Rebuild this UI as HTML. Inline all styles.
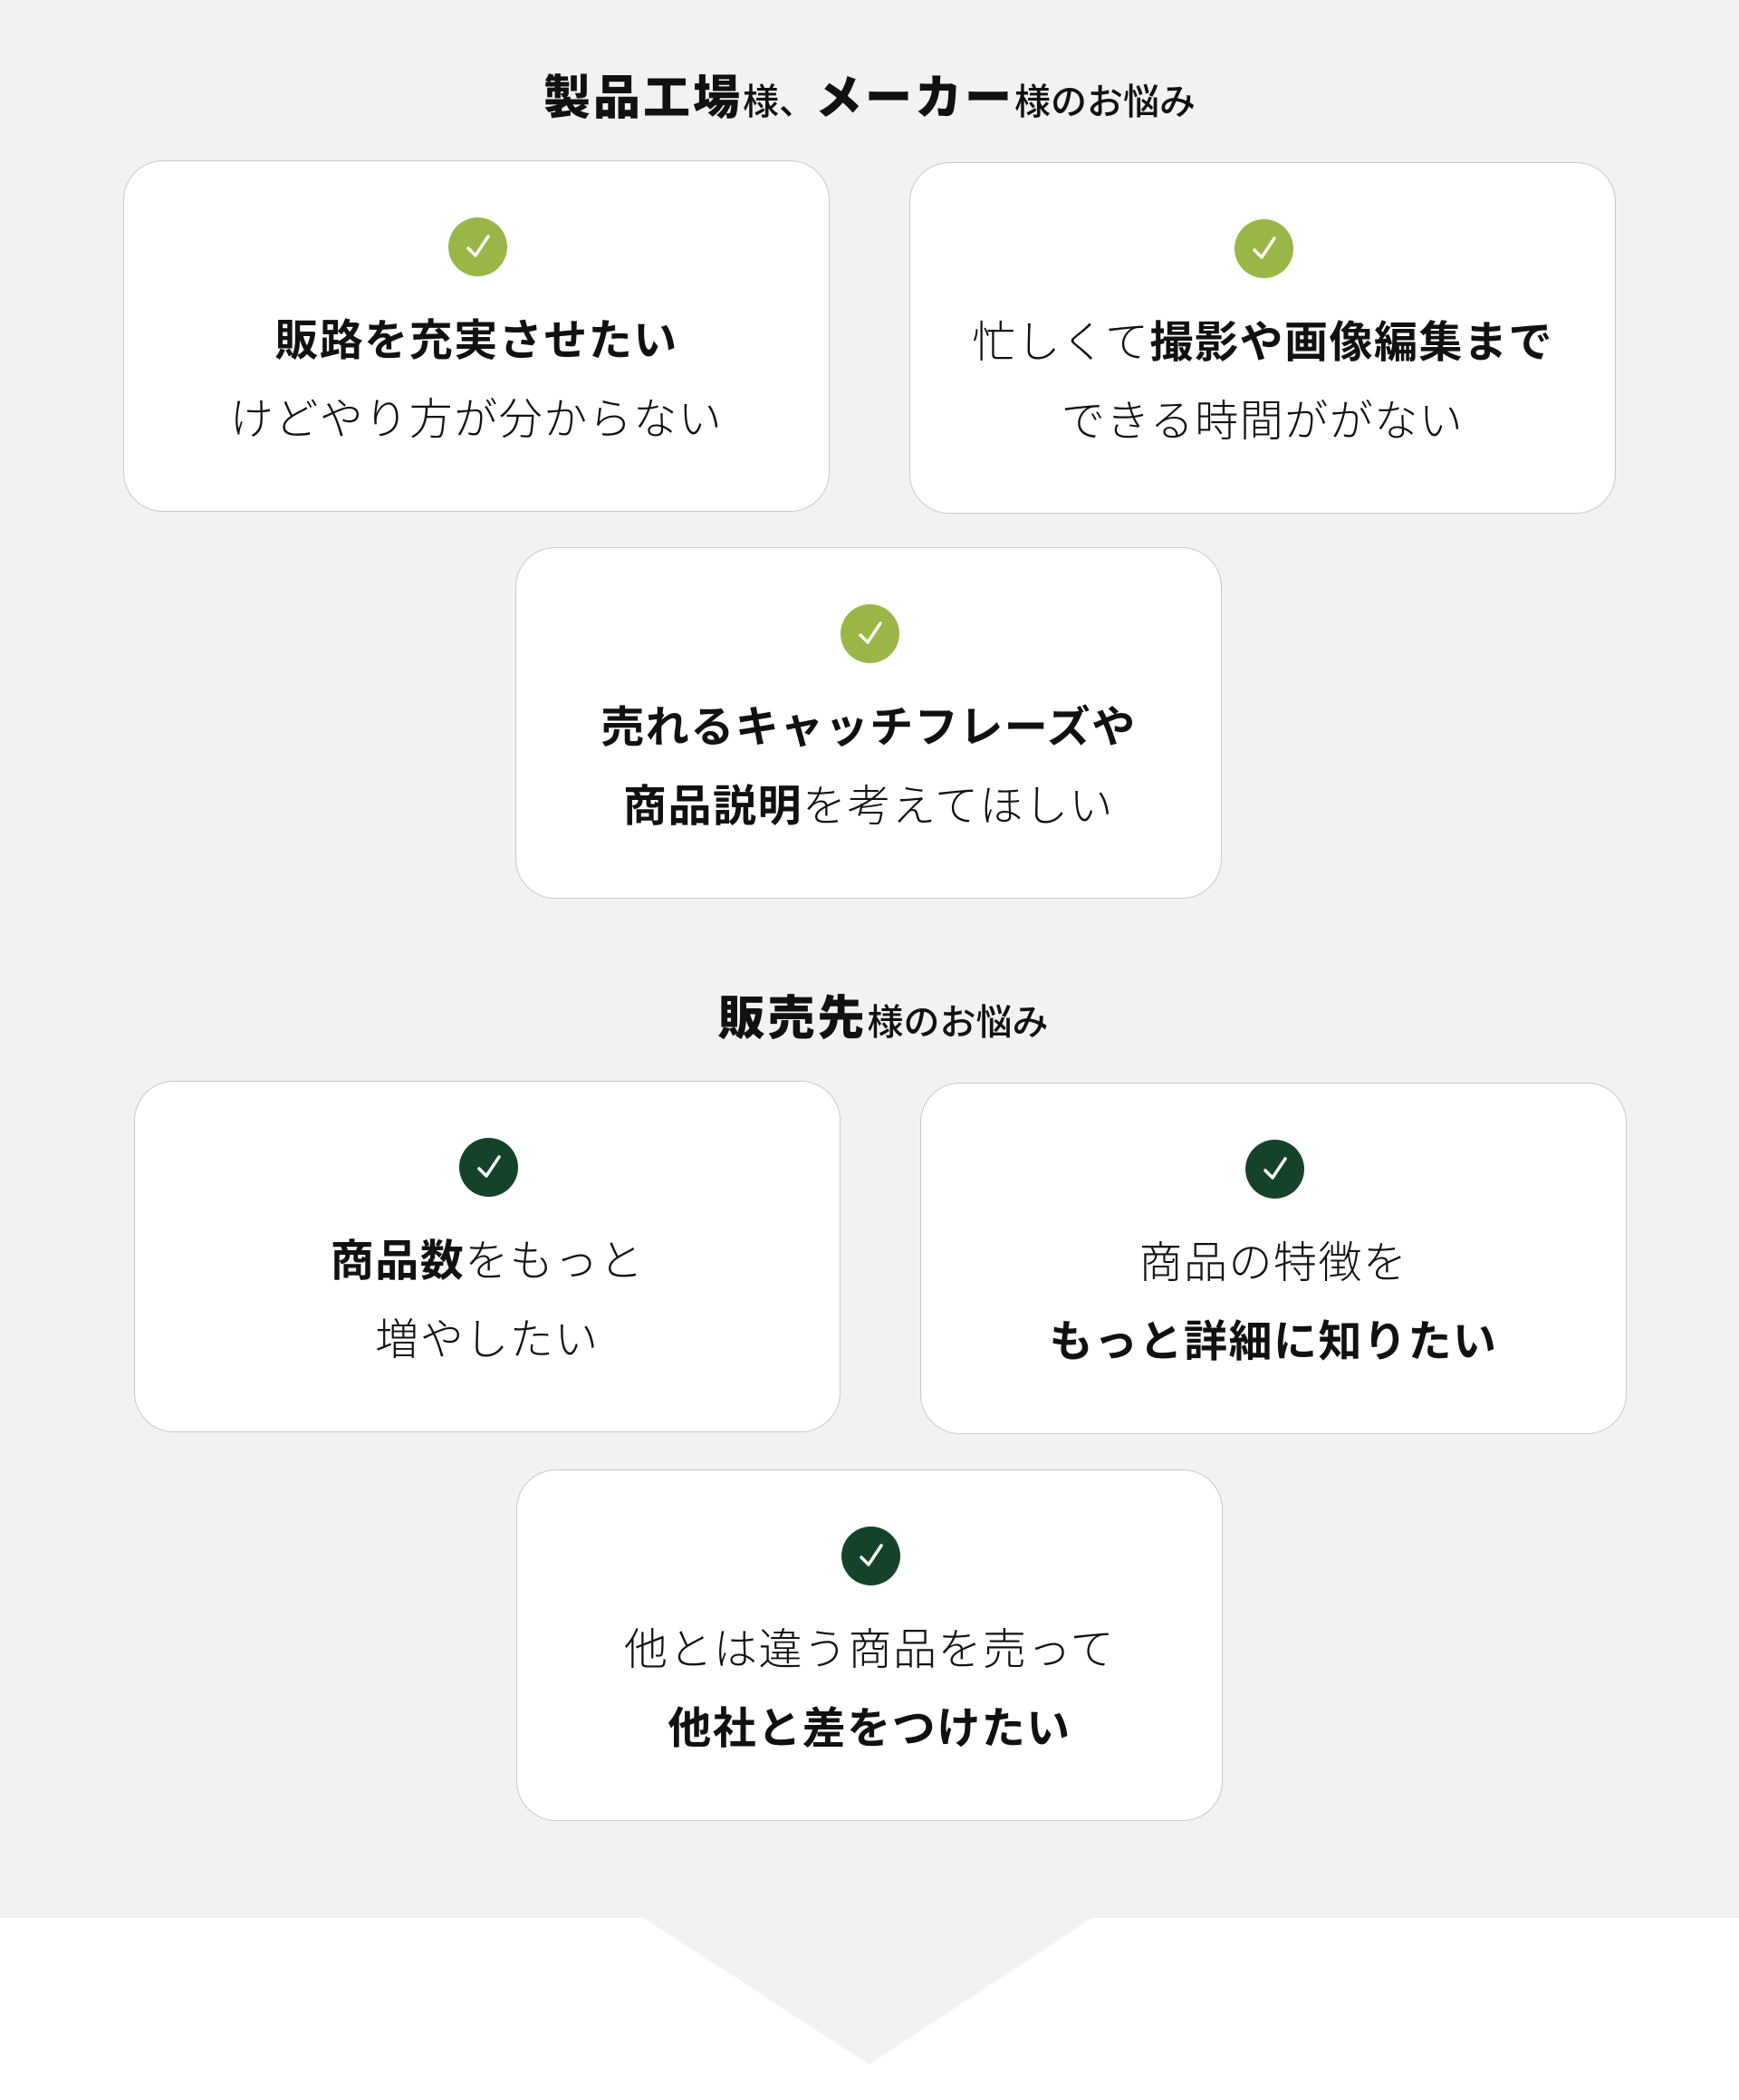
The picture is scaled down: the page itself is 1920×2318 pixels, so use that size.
<!DOCTYPE html>
<html><head><meta charset="utf-8"><style>
html,body{margin:0;padding:0}
body{width:1920px;height:2318px;position:relative;background:#fff;font-family:"Liberation Sans","Noto Sans CJK JP",sans-serif;color:#111;overflow:hidden}
.bg{position:absolute;left:0;top:0;width:1920px;height:2117px;background:#f2f2f2}
.tri{position:absolute;left:0;top:2116px}
.h{position:absolute;left:0;width:1920px;text-align:center;font-weight:700;white-space:nowrap}
.h b{font-size:52px;letter-spacing:3px}
.h s{text-decoration:none;font-size:40px;font-weight:500}
.card{position:absolute;width:780px;height:388px;background:#fff;border:1.5px solid #c8c8c8;border-radius:44px;box-sizing:border-box}
.ic{position:absolute;left:358px;top:62px;width:65px;height:65px;border-radius:50%}
.ic svg{position:absolute;left:0;top:0}
.l{position:absolute;left:0;width:100%;text-align:center;font-size:48px;line-height:60px;letter-spacing:1.5px;white-space:nowrap;font-weight:300}
.l b{font-weight:700}
.l1{top:169px}.l2{top:256px}
.g1{background:#99b646}.g2{background:#14432a}
</style></head><body>
<div class="bg"></div>
<svg class="tri" width="1920" height="200"><polygon points="709,0 1207,0 960,163" fill="#f2f2f2"/></svg>
<div class="h" style="top:66px"><b>製品工場</b><s>様、</s><b>メーカー</b><s>様のお悩み</s></div>
<div class="h" style="top:1082px;left:15px"><b>販売先</b><s>様のお悩み</s></div>

<div class="card" style="left:136px;top:177px"><div class="ic g1"><svg width="65" height="65"><path d="M22 34 L30 42 L44 21" stroke="#fff" stroke-width="3.5" fill="none" stroke-linecap="round" stroke-linejoin="round"/></svg></div>
<div class="l l1"><b>販路を充実させたい</b></div><div class="l l2">けどやり方が分からない</div></div>

<div class="card" style="left:1004px;top:179px"><div class="ic g1"><svg width="65" height="65"><path d="M22 34 L30 42 L44 21" stroke="#fff" stroke-width="3.5" fill="none" stroke-linecap="round" stroke-linejoin="round"/></svg></div>
<div class="l l1">忙しくて<b>撮影や画像編集まで</b></div><div class="l l2">できる時間ががない</div></div>

<div class="card" style="left:569px;top:604px"><div class="ic g1"><svg width="65" height="65"><path d="M22 34 L30 42 L44 21" stroke="#fff" stroke-width="3.5" fill="none" stroke-linecap="round" stroke-linejoin="round"/></svg></div>
<div class="l l1"><b>売れるキャッチフレーズや</b></div><div class="l l2"><b>商品説明</b>を考えてほしい</div></div>

<div class="card" style="left:148px;top:1193px"><div class="ic g2"><svg width="65" height="65"><path d="M22 34 L30 42 L44 21" stroke="#fff" stroke-width="3.5" fill="none" stroke-linecap="round" stroke-linejoin="round"/></svg></div>
<div class="l l1"><b>商品数</b>をもっと</div><div class="l l2">増やしたい</div></div>

<div class="card" style="left:1016px;top:1195px"><div class="ic g2"><svg width="65" height="65"><path d="M22 34 L30 42 L44 21" stroke="#fff" stroke-width="3.5" fill="none" stroke-linecap="round" stroke-linejoin="round"/></svg></div>
<div class="l l1">商品の特徴を</div><div class="l l2"><b>もっと詳細に知りたい</b></div></div>

<div class="card" style="left:570px;top:1622px"><div class="ic g2"><svg width="65" height="65"><path d="M22 34 L30 42 L44 21" stroke="#fff" stroke-width="3.5" fill="none" stroke-linecap="round" stroke-linejoin="round"/></svg></div>
<div class="l l1">他とは違う商品を売って</div><div class="l l2"><b>他社と差をつけたい</b></div></div>
</body></html>
